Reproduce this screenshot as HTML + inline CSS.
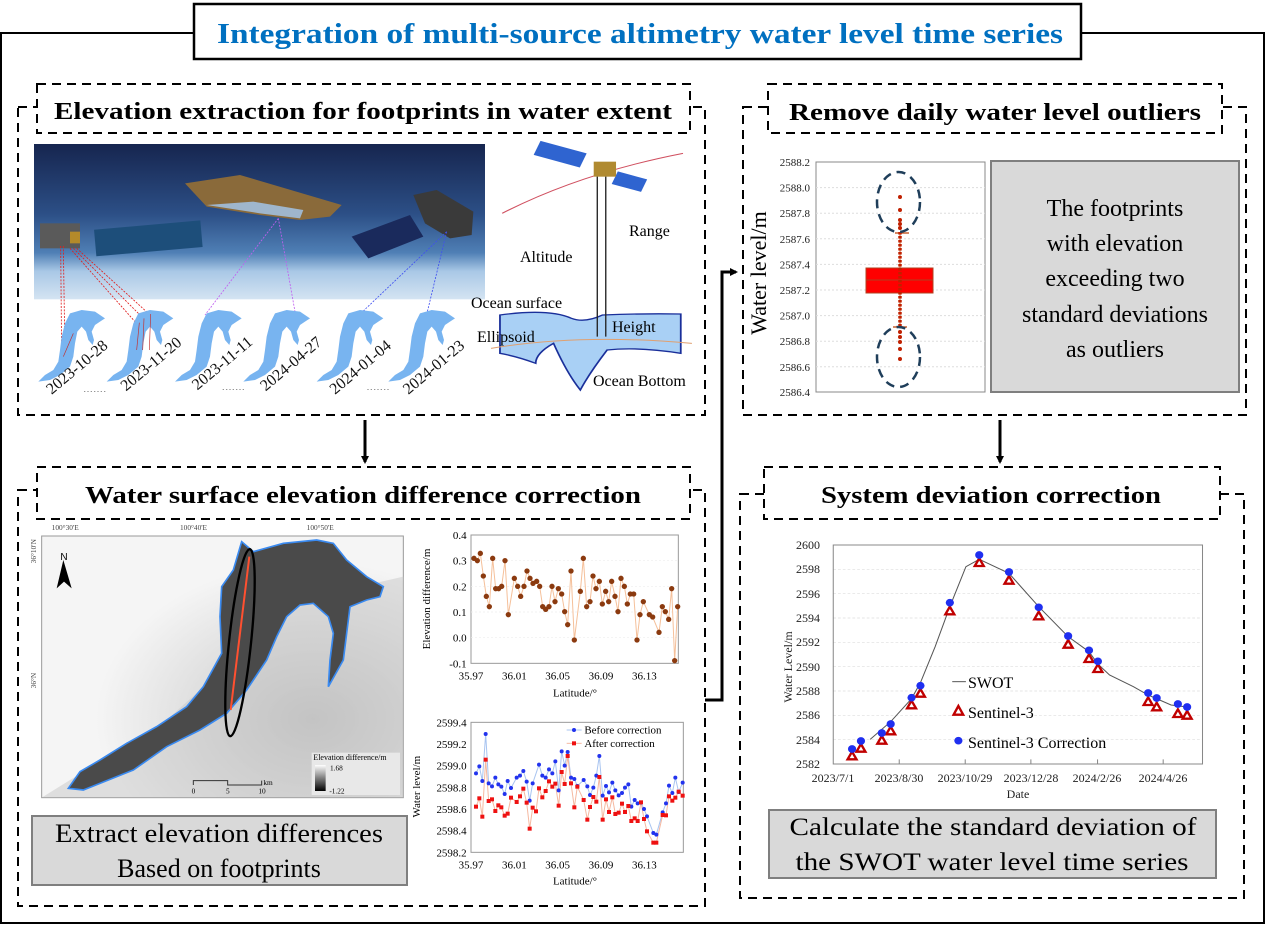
<!DOCTYPE html>
<html><head><meta charset="utf-8"><style>
html,body{margin:0;padding:0;background:#fff;}
svg{display:block;font-family:"Liberation Serif",serif;}
</style></head><body>
<svg width="1266" height="925" viewBox="0 0 1266 925" xmlns="http://www.w3.org/2000/svg">
<defs>
<linearGradient id="sky" x1="0" y1="0" x2="0" y2="1">
<stop offset="0" stop-color="#16254f"/><stop offset="0.45" stop-color="#2c4f86"/><stop offset="0.7" stop-color="#4f7fb5"/><stop offset="0.82" stop-color="#a9c8e6"/><stop offset="1" stop-color="#d4e4f2"/>
</linearGradient>
<linearGradient id="cb" x1="0" y1="0" x2="0" y2="1"><stop offset="0" stop-color="#fff"/><stop offset="1" stop-color="#000"/></linearGradient>
<radialGradient id="hill" cx="0.75" cy="0.7" r="0.6"><stop offset="0" stop-color="#c4c4c4"/><stop offset="1" stop-color="#f5f5f5"/></radialGradient>
<marker id="ah" markerWidth="8" markerHeight="8" refX="6" refY="4" orient="auto" markerUnits="userSpaceOnUse"><path d="M0,0 L8,4 L0,8 Z" fill="#000"/></marker>
</defs>

<!-- Outer frame -->
<path d="M0,33 H195 M1080,33 H1264 V923 H1 V33" fill="none" stroke="#000" stroke-width="2"/>
<rect x="194" y="4" width="887" height="55" fill="#fff" stroke="#000" stroke-width="2.5"/>
<text x="640" y="43" text-anchor="middle" font-size="29" font-weight="bold" fill="#0070C0" textLength="846" lengthAdjust="spacingAndGlyphs">Integration of multi-source altimetry water level time series</text>

<!-- Panel 1 -->
<rect x="18" y="107" width="687" height="308" fill="none" stroke="#000" stroke-width="2" stroke-dasharray="9,6"/>
<rect x="37" y="84" width="653" height="49" fill="#fff" stroke="#000" stroke-width="2" stroke-dasharray="9,6"/>
<text x="363" y="119" text-anchor="middle" font-size="24" font-weight="bold" textLength="618" lengthAdjust="spacingAndGlyphs">Elevation extraction for footprints in water extent</text>

<g transform="translate(20,140) scale(0.33333)">
<rect x="42" y="12" width="1353" height="466" fill="url(#sky)"/>
<!-- sat1 -->
<rect x="225" y="255" width="320" height="80" fill="#1d4e7a" transform="rotate(-5 385 295)"/>
<rect x="60" y="250" width="120" height="75" fill="#5a5a5a"/>
<rect x="150" y="275" width="30" height="35" fill="#b48a2a"/>
<!-- sat2 -->
<path d="M495,130 L660,105 L965,195 L930,230 L840,240 L720,225 L560,200 Z" fill="#8a6a3a"/>
<path d="M560,195 L720,220 L840,235 L850,210 L700,185 Z" fill="#9fb6cc"/>
<!-- sat3 -->
<path d="M995,290 L1170,225 L1210,290 L1045,355 Z" fill="#1a2a5c"/>
<path d="M1180,165 L1250,150 L1360,215 L1355,285 L1290,295 L1215,250 Z" fill="#3a3a3a"/>
<!-- dashed lines -->
<g fill="none" stroke-width="2.5" stroke-dasharray="6,4">
<path d="M122,318 L125,650 M130,318 L135,650 M150,325 L345,545 M160,325 L365,530 M170,325 L385,520" stroke="#e02020"/>
<path d="M775,235 L555,525 M775,235 L825,515" stroke="#c060f0"/>
<path d="M1280,275 L970,570 M1280,275 L1180,690" stroke="#4050f0"/>
</g>
<!-- lakes -->
<g fill="#78b4f0">
<path id="lk" d="M55,725 L75,705 L100,690 L115,665 L120,630 L125,590 L135,550 L150,520 L185,510 L225,515 L255,535 L240,545 L225,555 L215,575 L222,600 L218,615 L205,600 L198,575 L185,560 L172,575 L165,610 L160,650 L150,680 L120,705 L90,720 Z"/>
<use href="#lk" x="205"/><use href="#lk" x="410"/><use href="#lk" x="615"/><use href="#lk" x="835"/><use href="#lk" x="1050"/>
</g>
<g stroke="#c03030" stroke-width="2"><path d="M130,650 L160,580 M350,630 L358,548 M368,630 L372,535 M388,630 L392,522"/></g>
<g font-size="48" fill="#111">
<text transform="translate(95,765) rotate(-40)">2023-10-28</text>
<text transform="translate(318,755) rotate(-40)">2023-11-20</text>
<text transform="translate(532,752) rotate(-40)">2023-11-11</text>
<text transform="translate(737,755) rotate(-40)">2024-04-27</text>
<text transform="translate(945,765) rotate(-40)">2024-01-04</text>
<text transform="translate(1165,765) rotate(-40)">2024-01-23</text>
</g>
<g stroke="#555" stroke-width="2" stroke-dasharray="4,6"><path d="M192,755 H262 M608,748 H676 M1042,748 H1110"/></g>
</g>

<!-- altimetry diagram -->
<g transform="scale(0.4464,0.33333)">
<path d="M1125,640 Q1300,520 1530,460" fill="none" stroke="#d05060" stroke-width="3"/>
<rect x="1200" y="440" width="110" height="45" fill="#2f64d0" transform="rotate(20 1255 462)"/>
<rect x="1375" y="525" width="70" height="40" fill="#2f64d0" transform="rotate(20 1410 545)"/>
<rect x="1330" y="485" width="50" height="45" fill="#b08a30"/>
<path d="M1120,945 Q1230,925 1280,955 Q1310,970 1350,945 Q1440,940 1525,942 L1525,1060 Q1430,1040 1360,1050 Q1320,1120 1300,1170 Q1270,1120 1240,1030 Q1200,1060 1200,1090 Q1160,1070 1120,1060 Z" fill="#a9d0f5" stroke="#1a2f9a" stroke-width="4"/>
<path d="M1100,1045 Q1300,1000 1550,1030" fill="none" stroke="#e0a070" stroke-width="3"/>
<path d="M1338,530 V1010 M1357,530 V1010" stroke="#222" stroke-width="3"/>
</g>
<g font-size="16" fill="#000">
<text x="629" y="236">Range</text>
<text x="520" y="262">Altitude</text>
<text x="471" y="308">Ocean surface</text>
<text x="612" y="332">Height</text>
<text x="477" y="342">Ellipsoid</text>
<text x="593" y="386">Ocean Bottom</text>
</g>

<!-- Arrows -->
<line x1="365" y1="420" x2="365" y2="462" stroke="#000" stroke-width="3" marker-end="url(#ah)"/>
<line x1="1000" y1="420" x2="1000" y2="462" stroke="#000" stroke-width="3" marker-end="url(#ah)"/>
<polyline points="705,700 722,700 722,272 736,272" fill="none" stroke="#000" stroke-width="3" marker-end="url(#ah)"/>

<!-- Panel 2 -->
<rect x="743" y="107" width="503" height="308" fill="none" stroke="#000" stroke-width="2" stroke-dasharray="9,6"/>
<rect x="768" y="84" width="454" height="49" fill="#fff" stroke="#000" stroke-width="2" stroke-dasharray="9,6"/>
<text x="995" y="120" text-anchor="middle" font-size="24" font-weight="bold" textLength="412" lengthAdjust="spacingAndGlyphs">Remove daily water level outliers</text>
<rect x="816" y="162" width="169" height="230" fill="#fff" stroke="#888" stroke-width="1"/>
<g stroke="#ddd" stroke-dasharray="2,2">
<path d="M816,187.6 H985 M816,213.2 H985 M816,238.8 H985 M816,264.4 H985 M816,290 H985 M816,315.6 H985 M816,341.2 H985 M816,366.8 H985"/>
</g>
<g font-size="11" text-anchor="end" fill="#222">
<text x="810" y="166">2588.2</text><text x="810" y="191.6">2588.0</text><text x="810" y="217.2">2587.8</text><text x="810" y="242.8">2587.6</text><text x="810" y="268.4">2587.4</text><text x="810" y="294">2587.2</text><text x="810" y="319.6">2587.0</text><text x="810" y="345.2">2586.8</text><text x="810" y="370.8">2586.6</text><text x="810" y="396">2586.4</text>
</g>
<text transform="translate(766,273) rotate(-90)" text-anchor="middle" font-size="22">Water level/m</text>
<line x1="900" y1="233" x2="900" y2="327" stroke="#c86030" stroke-width="1"/>
<path d="M895,233 H909 M893,327 H907" stroke="#c86030" stroke-width="1.5"/>
<rect x="866" y="268" width="67" height="25" fill="#ff0000" stroke="#b04020"/>
<line x1="866" y1="280" x2="933" y2="280" stroke="#b04020"/>
<g fill="#c02000">
<circle cx="900" cy="197" r="2"/><circle cx="900" cy="210" r="2"/><circle cx="900" cy="220" r="2"/><circle cx="900" cy="224" r="2"/><circle cx="900" cy="228" r="2"/>
<path d="M900,232 V328" stroke="#c02000" stroke-width="3.5" stroke-dasharray="2.5,1.5"/>
<circle cx="900" cy="332" r="2"/><circle cx="900" cy="337" r="2"/><circle cx="900" cy="342" r="2"/><circle cx="900" cy="349" r="2"/><circle cx="900" cy="359" r="2"/>
</g>
<g fill="none" stroke="#1f3e5a" stroke-width="2.5" stroke-dasharray="9,6">
<ellipse cx="898.5" cy="202" rx="21.5" ry="30"/><ellipse cx="898.5" cy="357" rx="21.5" ry="30"/>
</g>
<rect x="991" y="161" width="248" height="231" fill="#d9d9d9" stroke="#7f7f7f" stroke-width="2"/>
<g font-size="24" text-anchor="middle">
<text x="1115" y="216">The footprints</text><text x="1115" y="251">with elevation</text><text x="1115" y="286">exceeding two</text><text x="1115" y="322">standard deviations</text><text x="1115" y="357">as outliers</text>
</g>

<!-- Panel 3 -->
<rect x="18" y="490" width="687" height="416" fill="none" stroke="#000" stroke-width="2" stroke-dasharray="9,6"/>
<rect x="37" y="467" width="653" height="52" fill="#fff" stroke="#000" stroke-width="2" stroke-dasharray="9,6"/>
<text x="363" y="503" text-anchor="middle" font-size="24" font-weight="bold" textLength="556" lengthAdjust="spacingAndGlyphs">Water surface elevation difference correction</text>

<g transform="translate(0,460) scale(0.33333)">
<rect x="125" y="228" width="1085" height="785" fill="url(#hill)" stroke="#999" stroke-width="3"/>
<path d="M125,1013 L500,780 L700,600 L900,420 L1210,350 L1210,1013 Z" fill="#c4c4c4" opacity="0.45"/>
<polygon points="205,985 240,935 300,900 380,850 470,800 560,740 610,680 665,580 660,470 665,380 700,330 725,245 760,275 850,250 950,240 1000,250 1040,300 1100,350 1150,380 1140,410 1100,420 1050,440 1040,520 1030,600 985,680 990,600 1000,520 985,470 940,430 900,435 860,470 830,530 800,600 740,690 680,760 600,810 500,860 400,930 250,990" fill="#4a4a4a" stroke="#3a8af0" stroke-width="5"/>
<ellipse cx="720" cy="548" rx="33" ry="282" fill="none" stroke="#000" stroke-width="7" transform="rotate(6 720 548)"/>
<line x1="748" y1="290" x2="692" y2="750" stroke="#ff5030" stroke-width="6"/>
<path d="M190,300 L170,385 L192,365 L215,385 Z" fill="#000"/>
<text x="192" y="300" font-size="30" font-family="Liberation Sans, sans-serif" text-anchor="middle">N</text>
<rect x="935" y="878" width="265" height="127" fill="#e8e8e8"/>
<rect x="945" y="915" width="32" height="78" fill="url(#cb)"/>
<text x="940" y="900" font-size="24">Elevation difference/m</text>
<text x="990" y="932" font-size="22">1.68</text><text x="988" y="1000" font-size="22">-1.22</text>
<path d="M580,975 V962 H683 V975 H785 V962" fill="none" stroke="#333" stroke-width="3"/>
<text x="575" y="1000" font-size="22">0</text><text x="678" y="1000" font-size="22">5</text><text x="775" y="1000" font-size="22">10</text><text x="790" y="975" font-size="22">km</text>
<g font-size="22" fill="#444"><text x="155" y="210">100°30'E</text><text x="540" y="210">100°40'E</text><text x="920" y="210">100°50'E</text>
<text transform="translate(108,310) rotate(-90)">36°10'N</text><text transform="translate(108,685) rotate(-90)">36°N</text></g>
</g>
<rect x="32" y="816" width="375" height="69" fill="#d9d9d9" stroke="#7f7f7f" stroke-width="2"/>
<text x="219" y="842" text-anchor="middle" font-size="26" textLength="328" lengthAdjust="spacingAndGlyphs">Extract elevation differences</text>
<text x="219" y="877" text-anchor="middle" font-size="26">Based on footprints</text>

<!-- small charts -->
<g transform="translate(400,520) scale(0.33333)">
<rect x="213" y="45" width="622" height="385" fill="#fff" stroke="#999" stroke-width="3"/>
<g stroke="#eee" stroke-width="2" stroke-dasharray="6,6"><path d="M213,122 H835 M213,199 H835 M213,276 H835 M213,353 H835"/></g>
<polyline fill="none" stroke="#f5c09a" stroke-width="3" points="222,115 232,122 241,100 250,168 259,229 268,260 278,115 287,206 296,206 305,199 315,122 325,284 343,175 353,199 362,229 372,199 381,153 390,175 399,190 410,184 419,199 428,260 437,268 447,260 456,199 465,245 475,206 485,222 494,275 503,314 513,153 523,360 541,214 550,115 560,260 570,245 579,168 588,206 598,184 607,252 617,214 626,245 635,184 645,229 654,275 663,175 673,199 682,252 691,222 701,222 711,360 720,284 730,245 748,284 758,291 777,337 787,260 796,275 806,298 815,206 824,422 833,260"/>
<g fill="#8b3a0f">
<circle cx="222" cy="115" r="8"/><circle cx="232" cy="122" r="8"/><circle cx="241" cy="100" r="8"/><circle cx="250" cy="168" r="8"/><circle cx="259" cy="229" r="8"/><circle cx="268" cy="260" r="8"/><circle cx="278" cy="115" r="8"/><circle cx="287" cy="206" r="8"/><circle cx="296" cy="206" r="8"/><circle cx="305" cy="199" r="8"/><circle cx="315" cy="122" r="8"/><circle cx="325" cy="284" r="8"/><circle cx="343" cy="175" r="8"/><circle cx="353" cy="199" r="8"/><circle cx="362" cy="229" r="8"/><circle cx="372" cy="199" r="8"/><circle cx="381" cy="153" r="8"/><circle cx="390" cy="175" r="8"/><circle cx="399" cy="190" r="8"/><circle cx="410" cy="184" r="8"/><circle cx="419" cy="199" r="8"/><circle cx="428" cy="260" r="8"/><circle cx="437" cy="268" r="8"/><circle cx="447" cy="260" r="8"/><circle cx="456" cy="199" r="8"/><circle cx="465" cy="245" r="8"/><circle cx="475" cy="206" r="8"/><circle cx="485" cy="222" r="8"/><circle cx="494" cy="275" r="8"/><circle cx="503" cy="314" r="8"/><circle cx="513" cy="153" r="8"/><circle cx="523" cy="360" r="8"/><circle cx="541" cy="214" r="8"/><circle cx="550" cy="115" r="8"/><circle cx="560" cy="260" r="8"/><circle cx="570" cy="245" r="8"/><circle cx="579" cy="168" r="8"/><circle cx="588" cy="206" r="8"/><circle cx="598" cy="184" r="8"/><circle cx="607" cy="252" r="8"/><circle cx="617" cy="214" r="8"/><circle cx="626" cy="245" r="8"/><circle cx="635" cy="184" r="8"/><circle cx="645" cy="229" r="8"/><circle cx="654" cy="275" r="8"/><circle cx="663" cy="175" r="8"/><circle cx="673" cy="199" r="8"/><circle cx="682" cy="252" r="8"/><circle cx="691" cy="222" r="8"/><circle cx="701" cy="222" r="8"/><circle cx="711" cy="360" r="8"/><circle cx="720" cy="284" r="8"/><circle cx="730" cy="245" r="8"/><circle cx="748" cy="284" r="8"/><circle cx="758" cy="291" r="8"/><circle cx="777" cy="337" r="8"/><circle cx="787" cy="260" r="8"/><circle cx="796" cy="275" r="8"/><circle cx="806" cy="298" r="8"/><circle cx="815" cy="206" r="8"/><circle cx="824" cy="422" r="8"/><circle cx="833" cy="260" r="8"/>
</g>
<g font-size="33" text-anchor="end"><text x="200" y="57">0.4</text><text x="200" y="134">0.3</text><text x="200" y="211">0.2</text><text x="200" y="288">0.1</text><text x="200" y="365">0.0</text><text x="200" y="442">-0.1</text></g>
<g font-size="33" text-anchor="middle"><text x="213" y="478">35.97</text><text x="343" y="478">36.01</text><text x="473" y="478">36.05</text><text x="603" y="478">36.09</text><text x="733" y="478">36.13</text><text x="525" y="530">Latitude/°</text>
<text transform="translate(90,237) rotate(-90)">Elevation difference/m</text></g>

<rect x="213" y="607" width="637" height="390" fill="#fff" stroke="#999" stroke-width="3"/>
<polyline fill="none" stroke="#a8c4f0" stroke-width="3" points="228,760 238,739 247,783 257,642 266,790 276,799 286,773 295,793 304,800 314,822 323,783 333,804 350,773 360,767 370,753 380,785 389,842 398,790 417,734 427,767 437,773 447,748 457,760 466,724 476,811 485,694 494,737 503,696 513,773 523,777 532,798 551,780 562,799 570,825 580,803 589,767 598,708 608,827 618,798 627,817 637,788 646,811 656,826 666,819 675,803 685,793 694,860 704,840 713,850 723,848 732,867 741,889 760,939 769,944 788,877 798,850 807,797 817,819 826,773 836,816 848,788"/>
<polyline fill="none" stroke="#f5b8a0" stroke-width="3" points="228,860 238,835 247,890 257,719 266,843 276,838 286,873 295,856 304,862 314,887 323,881 333,833 350,846 360,829 370,806 380,848 389,926 398,863 408,874 417,805 427,832 437,813 447,784 457,800 466,791 476,857 485,756 494,792 503,708 513,790 523,862 532,800 551,840 562,899 570,861 580,831 589,845 598,771 608,899 618,838 627,876 637,832 646,882 656,878 666,851 675,876 685,858 694,903 704,895 713,903 723,847 732,897 741,934 760,968 769,968 788,885 798,886 807,829 817,842 826,833 836,815 848,827"/>
<g fill="#2233ee">
<circle cx="228" cy="760" r="6"/><circle cx="238" cy="739" r="6"/><circle cx="247" cy="783" r="6"/><circle cx="257" cy="642" r="6"/><circle cx="266" cy="790" r="6"/><circle cx="276" cy="799" r="6"/><circle cx="286" cy="773" r="6"/><circle cx="295" cy="793" r="6"/><circle cx="304" cy="800" r="6"/><circle cx="314" cy="822" r="6"/><circle cx="323" cy="783" r="6"/><circle cx="333" cy="804" r="6"/><circle cx="350" cy="773" r="6"/><circle cx="360" cy="767" r="6"/><circle cx="370" cy="753" r="6"/><circle cx="380" cy="785" r="6"/><circle cx="389" cy="842" r="6"/><circle cx="398" cy="790" r="6"/><circle cx="417" cy="734" r="6"/><circle cx="427" cy="767" r="6"/><circle cx="437" cy="773" r="6"/><circle cx="447" cy="748" r="6"/><circle cx="457" cy="760" r="6"/><circle cx="466" cy="724" r="6"/><circle cx="476" cy="811" r="6"/><circle cx="485" cy="694" r="6"/><circle cx="494" cy="737" r="6"/><circle cx="503" cy="696" r="6"/><circle cx="513" cy="773" r="6"/><circle cx="523" cy="777" r="6"/><circle cx="532" cy="798" r="6"/><circle cx="551" cy="780" r="6"/><circle cx="562" cy="799" r="6"/><circle cx="570" cy="825" r="6"/><circle cx="580" cy="803" r="6"/><circle cx="589" cy="767" r="6"/><circle cx="598" cy="708" r="6"/><circle cx="608" cy="827" r="6"/><circle cx="618" cy="798" r="6"/><circle cx="627" cy="817" r="6"/><circle cx="637" cy="788" r="6"/><circle cx="646" cy="811" r="6"/><circle cx="656" cy="826" r="6"/><circle cx="666" cy="819" r="6"/><circle cx="675" cy="803" r="6"/><circle cx="685" cy="793" r="6"/><circle cx="694" cy="860" r="6"/><circle cx="704" cy="840" r="6"/><circle cx="713" cy="850" r="6"/><circle cx="723" cy="848" r="6"/><circle cx="732" cy="867" r="6"/><circle cx="741" cy="889" r="6"/><circle cx="760" cy="939" r="6"/><circle cx="769" cy="944" r="6"/><circle cx="788" cy="877" r="6"/><circle cx="798" cy="850" r="6"/><circle cx="807" cy="797" r="6"/><circle cx="817" cy="819" r="6"/><circle cx="826" cy="773" r="6"/><circle cx="836" cy="816" r="6"/><circle cx="848" cy="788" r="6"/>
</g>
<g fill="#ee1111">
<rect x="222" y="854" width="12" height="12"/><rect x="232" y="829" width="12" height="12"/><rect x="241" y="884" width="12" height="12"/><rect x="251" y="713" width="12" height="12"/><rect x="260" y="837" width="12" height="12"/><rect x="270" y="832" width="12" height="12"/><rect x="280" y="867" width="12" height="12"/><rect x="289" y="850" width="12" height="12"/><rect x="298" y="856" width="12" height="12"/><rect x="308" y="881" width="12" height="12"/><rect x="317" y="875" width="12" height="12"/><rect x="327" y="827" width="12" height="12"/><rect x="344" y="840" width="12" height="12"/><rect x="354" y="823" width="12" height="12"/><rect x="364" y="800" width="12" height="12"/><rect x="374" y="842" width="12" height="12"/><rect x="383" y="920" width="12" height="12"/><rect x="392" y="857" width="12" height="12"/><rect x="402" y="868" width="12" height="12"/><rect x="411" y="799" width="12" height="12"/><rect x="421" y="826" width="12" height="12"/><rect x="431" y="807" width="12" height="12"/><rect x="441" y="778" width="12" height="12"/><rect x="451" y="794" width="12" height="12"/><rect x="460" y="785" width="12" height="12"/><rect x="470" y="851" width="12" height="12"/><rect x="479" y="750" width="12" height="12"/><rect x="488" y="786" width="12" height="12"/><rect x="497" y="702" width="12" height="12"/><rect x="507" y="784" width="12" height="12"/><rect x="517" y="856" width="12" height="12"/><rect x="526" y="794" width="12" height="12"/><rect x="545" y="834" width="12" height="12"/><rect x="556" y="893" width="12" height="12"/><rect x="564" y="855" width="12" height="12"/><rect x="574" y="825" width="12" height="12"/><rect x="583" y="839" width="12" height="12"/><rect x="592" y="765" width="12" height="12"/><rect x="602" y="893" width="12" height="12"/><rect x="612" y="832" width="12" height="12"/><rect x="621" y="870" width="12" height="12"/><rect x="631" y="826" width="12" height="12"/><rect x="640" y="876" width="12" height="12"/><rect x="650" y="872" width="12" height="12"/><rect x="660" y="845" width="12" height="12"/><rect x="669" y="870" width="12" height="12"/><rect x="679" y="852" width="12" height="12"/><rect x="688" y="897" width="12" height="12"/><rect x="698" y="889" width="12" height="12"/><rect x="707" y="897" width="12" height="12"/><rect x="717" y="841" width="12" height="12"/><rect x="726" y="891" width="12" height="12"/><rect x="735" y="928" width="12" height="12"/><rect x="754" y="962" width="12" height="12"/><rect x="763" y="962" width="12" height="12"/><rect x="782" y="879" width="12" height="12"/><rect x="792" y="880" width="12" height="12"/><rect x="801" y="823" width="12" height="12"/><rect x="811" y="836" width="12" height="12"/><rect x="820" y="827" width="12" height="12"/><rect x="830" y="809" width="12" height="12"/><rect x="842" y="821" width="12" height="12"/>
</g>
<line x1="500" y1="630" x2="545" y2="630" stroke="#a8c4f0" stroke-width="3"/><circle cx="522" cy="630" r="6" fill="#2233ee"/>
<line x1="500" y1="670" x2="545" y2="670" stroke="#f5b8a0" stroke-width="3"/><rect x="516" y="664" width="12" height="12" fill="#ee1111"/>
<g font-size="33"><text x="553" y="641">Before correction</text><text x="553" y="681">After correction</text></g>
<g font-size="33" text-anchor="end"><text x="200" y="619">2599.4</text><text x="200" y="684">2599.2</text><text x="200" y="749">2599.0</text><text x="200" y="814">2598.8</text><text x="200" y="879">2598.6</text><text x="200" y="944">2598.4</text><text x="200" y="1009">2598.2</text></g>
<g font-size="33" text-anchor="middle"><text x="213" y="1045">35.97</text><text x="343" y="1045">36.01</text><text x="473" y="1045">36.05</text><text x="603" y="1045">36.09</text><text x="733" y="1045">36.13</text><text x="525" y="1093">Latitude/°</text>
<text transform="translate(60,800) rotate(-90)">Water level/m</text></g>
</g>

<!-- Panel 4 -->
<rect x="740" y="494" width="504" height="404" fill="none" stroke="#000" stroke-width="2" stroke-dasharray="9,6"/>
<rect x="764" y="467" width="456" height="52" fill="#fff" stroke="#000" stroke-width="2" stroke-dasharray="9,6"/>
<text x="991" y="503" text-anchor="middle" font-size="24" font-weight="bold" textLength="340" lengthAdjust="spacingAndGlyphs">System deviation correction</text>

<g transform="translate(730,460) scale(0.3419,0.33333)">
<g stroke="#ddd" stroke-width="2" stroke-dasharray="8,6"><path d="M302,328 H1382 M302,401 H1382 M302,474 H1382 M302,547 H1382 M302,620 H1382 M302,693 H1382 M302,766 H1382 M302,839 H1382"/></g>
<rect x="302" y="255" width="1080" height="657" fill="none" stroke="#888" stroke-width="3"/>
<path d="M495,912 V898 M688,912 V898 M880,912 V898 M1075,912 V898 M1267,912 V898" stroke="#888" stroke-width="3"/>
<polyline fill="none" stroke="#555" stroke-width="3" points="410,838 470,785 531,716 557,668 600,560 643,440 690,320 729,298 816,340 903,440 989,530 1050,575 1076,612 1110,645 1180,680 1223,705 1290,735 1337,741"/>
<g fill="#fff" stroke="#c00000" stroke-width="7">
<path id="tr" d="M357,875 L370,898 L344,898 Z"/>
<use href="#tr" x="26" y="-23"/><use href="#tr" x="87" y="-47"/><use href="#tr" x="113" y="-75"/><use href="#tr" x="174" y="-153"/><use href="#tr" x="200" y="-188"/><use href="#tr" x="286" y="-435"/><use href="#tr" x="372" y="-580"/><use href="#tr" x="459" y="-527"/><use href="#tr" x="546" y="-420"/><use href="#tr" x="632" y="-335"/><use href="#tr" x="693" y="-292"/><use href="#tr" x="719" y="-262"/><use href="#tr" x="866" y="-163"/><use href="#tr" x="891" y="-147"/><use href="#tr" x="953" y="-127"/><use href="#tr" x="980" y="-122"/>
</g>
<g fill="#1f2ff0">
<ellipse cx="357" cy="867" rx="12" ry="11.5"/><ellipse cx="383" cy="843" rx="12" ry="11.5"/><ellipse cx="444" cy="819" rx="12" ry="11.5"/><ellipse cx="470" cy="792" rx="12" ry="11.5"/><ellipse cx="531" cy="713" rx="12" ry="11.5"/><ellipse cx="557" cy="677" rx="12" ry="11.5"/><ellipse cx="643" cy="428" rx="12" ry="11.5"/><ellipse cx="729" cy="285" rx="12" ry="11.5"/><ellipse cx="816" cy="336" rx="12" ry="11.5"/><ellipse cx="903" cy="442" rx="12" ry="11.5"/><ellipse cx="989" cy="528" rx="12" ry="11.5"/><ellipse cx="1050" cy="571" rx="12" ry="11.5"/><ellipse cx="1076" cy="604" rx="12" ry="11.5"/><ellipse cx="1223" cy="699" rx="12" ry="11.5"/><ellipse cx="1248" cy="714" rx="12" ry="11.5"/><ellipse cx="1310" cy="732" rx="12" ry="11.5"/><ellipse cx="1337" cy="741" rx="12" ry="11.5"/>
</g>
<line x1="650" y1="665" x2="690" y2="665" stroke="#555" stroke-width="3"/>
<path d="M668,738 L682,764 L654,764 Z" fill="#fff" stroke="#c00000" stroke-width="7"/>
<ellipse cx="668" cy="842" rx="12" ry="11.5" fill="#1f2ff0"/>
</g>
<g font-size="16"><text x="968" y="688">SWOT</text><text x="968" y="718">Sentinel-3</text><text x="968" y="748">Sentinel-3 Correction</text></g>
<g font-size="12" text-anchor="end" fill="#222">
<text x="820" y="549">2600</text><text x="820" y="573">2598</text><text x="820" y="598">2596</text><text x="820" y="622">2594</text><text x="820" y="646">2592</text><text x="820" y="671">2590</text><text x="820" y="695">2588</text><text x="820" y="719">2586</text><text x="820" y="744">2584</text><text x="820" y="768">2582</text>
</g>
<g font-size="12" text-anchor="middle" fill="#222">
<text x="833" y="782">2023/7/1</text><text x="899" y="782">2023/8/30</text><text x="965" y="782">2023/10/29</text><text x="1031" y="782">2023/12/28</text><text x="1097" y="782">2024/2/26</text><text x="1163" y="782">2024/4/26</text>
<text x="1018" y="798">Date</text>
<text transform="translate(792,667) rotate(-90)">Water Level/m</text>
</g>
<rect x="769" y="810" width="447" height="68" fill="#d9d9d9" stroke="#7f7f7f" stroke-width="2"/>
<text x="993" y="835" text-anchor="middle" font-size="25" textLength="407" lengthAdjust="spacingAndGlyphs">Calculate the standard deviation of</text>
<text x="992" y="870" text-anchor="middle" font-size="25" textLength="393" lengthAdjust="spacingAndGlyphs">the SWOT water level time series</text>
</svg>
</body></html>
